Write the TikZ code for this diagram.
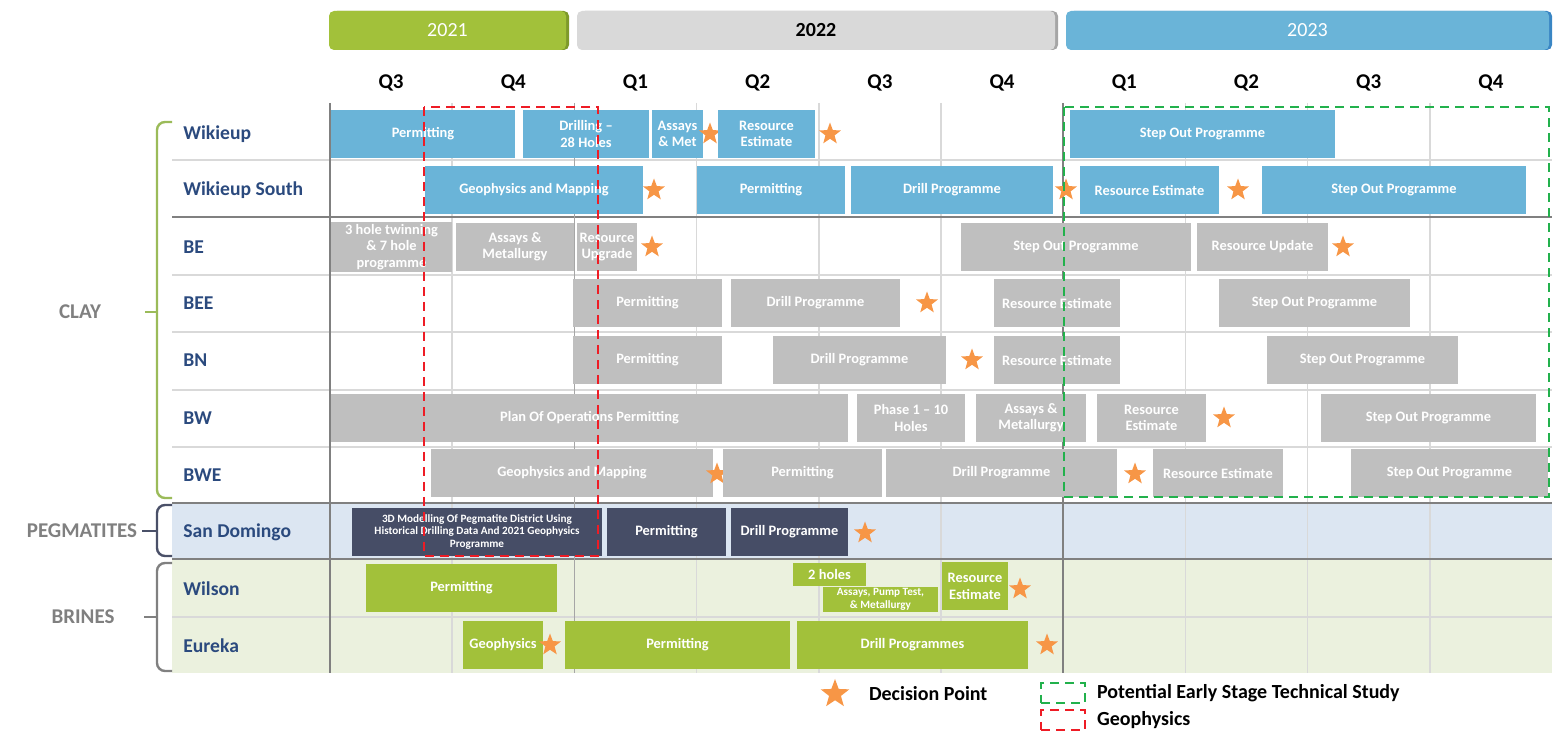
\documentclass[tikz,border=0pt]{standalone}
\usepackage{fontspec}
\setmainfont{Carlito}
\usetikzlibrary{positioning, shapes.geometric, shadows}
\definecolor{blu}{HTML}{6AB4D8}
\definecolor{bludk}{HTML}{3A86C4}
\definecolor{gry}{HTML}{BFBFBF}
\definecolor{grylt}{HTML}{D9D9D9}
\definecolor{grydk}{HTML}{A6A6A6}
\definecolor{nvy}{HTML}{464D66}
\definecolor{grn}{HTML}{A2C13A}
\definecolor{grndk}{HTML}{7E9A2A}
\definecolor{orng}{HTML}{F79646}
\definecolor{rowc}{HTML}{2B4A7E}
\definecolor{catc}{HTML}{808080}
\definecolor{pegbg}{HTML}{DCE6F2}
\definecolor{brnbg}{HTML}{EBF1DE}
\definecolor{clayc}{HTML}{9BBB59}
\definecolor{pegc}{HTML}{4A5068}
\definecolor{reddash}{HTML}{EE1C25}
\definecolor{grndash}{HTML}{22B14C}

\begin{document}
\begin{tikzpicture}[x=0.5pt, y=-0.5pt,
  task/.style={rectangle, inner sep=1pt, minimum height=24pt, text=white, align=center,
    font=\bfseries\fontsize{7.2}{8.2}\selectfont},
  bblu/.style={task, fill=blu},
  bgry/.style={task, fill=gry},
  bnvy/.style={task, fill=nvy},
  bgrn/.style={task, fill=grn},
  tiny/.style={font=\bfseries\fontsize{5.6}{6.2}\selectfont},
  bspan/.style n args={3}{at={({(#1+#2)/2},#3)}, minimum width={(#2-#1)*0.5pt}},
  dpt/.style={star, star points=5, star point ratio=2.4, fill=orng, inner sep=0pt, minimum size=11.5pt},
  yr/.style={rectangle, rounded corners=2.5pt, minimum height=19.5pt, font=\fontsize{10}{12}\selectfont,
    general shadow={shadow xshift=1.5pt, shadow yshift=0pt, fill=#1}},
  qlab/.style={font=\bfseries\fontsize{10.5}{12}\selectfont},
  rowlab/.style={anchor=west, inner sep=0pt, text=rowc, font=\bfseries\fontsize{9.8}{12}\selectfont},
  catlab/.style={text=catc, font=\bfseries\fontsize{10.5}{12}\selectfont},
  gridlt/.style={draw=grylt, line width=0.8pt},
  griddk/.style={draw=gray, line width=0.9pt},
  brace/.style={line width=1.2pt, rounded corners=4pt},
  geobox/.style={draw=reddash, line width=1.4pt, dash pattern=on 4.5pt off 3pt},
  studybox/.style={draw=grndash, line width=1.4pt, dash pattern=on 4.5pt off 3pt},
  legtxt/.style={anchor=west, font=\bfseries\fontsize{10}{12}\selectfont}
]
  \useasboundingbox (0,0) rectangle (1559,731);

  % years and quarters
  \node[yr=grndk, fill=grn, text=white, bspan={329}{566}{30.5}] (y21) {2021};
  \node[yr=grydk, fill=grylt, font=\bfseries\fontsize{10}{12}\selectfont, bspan={577}{1055}{30.5}] (y22) {2022};
  \node[yr=bludk, fill=blu, text=white, bspan={1066}{1549}{30.5}] (y23) {2023};
  \foreach \q [count=\i from 0] in {Q3,Q4,Q1,Q2,Q3,Q4,Q1,Q2,Q3,Q4}
    \node[qlab] (q\i) at ({391.1+122.2*\i},83) {\q};

  % row backgrounds
  \fill[pegbg] (172,503) rectangle (1552,559);
  \fill[brnbg] (172,559) rectangle (1552,673);

  % grid
  \foreach \k in {1,3,4,5,7,8,9}
    \draw[gridlt] ({330+122.2*\k},103) -- ({330+122.2*\k},673);
  \foreach \y in {160,275,332,390,447,617}
    \draw[gridlt] (172,\y) -- (1552,\y);
  \foreach \y in {217,503,559}
    \draw[griddk] (172,\y) -- (1552,\y);
  \draw[griddk] (330,103) -- (330,673);
  \draw[draw=gray!70, line width=0.8pt] (574.4,103) -- (574.4,673);
  \draw[griddk] (1063,103) -- (1063,673);

  % row labels
  \node[rowlab] (rwk) at (183,134) {Wikieup};
  \node[rowlab] (rws) at (183,190) {Wikieup South};
  \node[rowlab] (rbe) at (183,247) {BE};
  \node[rowlab] (rbee) at (183,303) {BEE};
  \node[rowlab] (rbn) at (183,360) {BN};
  \node[rowlab] (rbw) at (183,418) {BW};
  \node[rowlab] (rbwe) at (183,475) {BWE};
  \node[rowlab] (rsd) at (183,532) {San Domingo};
  \node[rowlab] (rwi) at (183,589) {Wilson};
  \node[rowlab] (reu) at (183,646) {Eureka};

  % groups
  \node[catlab] (clay) at (80,312) {CLAY};
  \node[catlab] (peg) at (82,531) {PEGMATITES};
  \node[catlab] (brn) at (83,617) {BRINES};
  \draw[brace, clayc] (172,122) -- (157,122) -- (157,498) -- (172,498);
  \draw[line width=1.2pt, clayc] (157,312) -- (145,312);
  \draw[brace, pegc] (172,505) -- (157,505) -- (157,556) -- (172,556);
  \draw[line width=1.2pt, pegc] (157,531) -- (142,531);
  \draw[brace, catc] (172,563) -- (157,563) -- (157,671) -- (172,671);
  \draw[line width=1.2pt, catc] (157,617) -- (144,617);

  % Wikieup
  \node[bblu, bspan={331}{515}{134}] (wk1) {Permitting};
  \node[bblu, bspan={523}{649}{134}] (wk2) {Drilling --\\28 Holes};
  \node[bblu, bspan={652}{703}{134}] (wk3) {Assays\\\& Met};
  \node[dpt] (wkd1) at (710,134) {};
  \node[bblu, bspan={718}{815}{134}] (wk4) {Resource\\Estimate};
  \node[dpt] (wkd2) at (830,134) {};
  \node[bblu, bspan={1070}{1335}{134}] (wk5) {Step Out Programme};

  % Wikieup South
  \node[bblu, bspan={425}{643}{190}] (ws1) {Geophysics and Mapping};
  \node[dpt] (wsd1) at (654,190) {};
  \node[bblu, bspan={697}{845}{190}] (ws2) {Permitting};
  \node[bblu, bspan={851}{1053}{190}] (ws3) {Drill Programme};
  \node[dpt] (wsd2) at (1066,190) {};
  \node[bblu, bspan={1080}{1219}{190}] (ws4) {Resource Estimate};
  \node[dpt] (wsd3) at (1238,190) {};
  \node[bblu, bspan={1262}{1526}{190}] (ws5) {Step Out Programme};

  % BE
  \node[bgry, bspan={331}{452}{247}] (be1) {3 hole twinning\\\& 7 hole\\programme};
  \node[bgry, bspan={456}{574}{247}] (be2) {Assays \&\\Metallurgy};
  \node[bgry, bspan={577}{637}{247}] (be3) {Resource\\Upgrade};
  \node[dpt] (bed1) at (652,247) {};
  \node[bgry, bspan={961}{1191}{247}] (be4) {Step Out Programme};
  \node[bgry, bspan={1197}{1328}{247}] (be5) {Resource Update};
  \node[dpt] (bed2) at (1343,247) {};

  % BEE
  \node[bgry, bspan={573}{722}{303}] (bee1) {Permitting};
  \node[bgry, bspan={731}{900}{303}] (bee2) {Drill Programme};
  \node[dpt] (beed1) at (927,303) {};
  \node[bgry, bspan={994}{1120}{303}] (bee3) {Resource Estimate};
  \node[bgry, bspan={1219}{1410}{303}] (bee4) {Step Out Programme};

  % BN
  \node[bgry, bspan={573}{722}{360}] (bn1) {Permitting};
  \node[bgry, bspan={773}{946}{360}] (bn2) {Drill Programme};
  \node[dpt] (bnd1) at (972,360) {};
  \node[bgry, bspan={994}{1120}{360}] (bn3) {Resource Estimate};
  \node[bgry, bspan={1267}{1458}{360}] (bn4) {Step Out Programme};

  % BW
  \node[bgry, bspan={331}{848}{418}] (bw1) {Plan Of Operations Permitting};
  \node[bgry, bspan={857}{965}{418}] (bw2) {Phase 1 -- 10\\Holes};
  \node[bgry, bspan={976}{1086}{418}] (bw3) {Assays \&\\Metallurgy};
  \node[bgry, bspan={1097}{1206}{418}] (bw4) {Resource\\Estimate};
  \node[dpt] (bwd1) at (1224,418) {};
  \node[bgry, bspan={1321}{1536}{418}] (bw5) {Step Out Programme};

  % BWE
  \node[bgry, bspan={431}{713}{473}] (bwe1) {Geophysics and Mapping};
  \node[dpt] (bwed1) at (717,474) {};
  \node[bgry, bspan={723}{882}{473}] (bwe2) {Permitting};
  \node[bgry, bspan={886}{1117}{473}] (bwe3) {Drill Programme};
  \node[dpt] (bwed2) at (1135,474) {};
  \node[bgry, bspan={1153}{1283}{473}] (bwe4) {Resource Estimate};
  \node[bgry, bspan={1351}{1548}{473}] (bwe5) {Step Out Programme};

  % San Domingo
  \node[bnvy, tiny, bspan={352}{602}{532}] (sd1) {3D Modelling Of Pegmatite District Using\\Historical Drilling Data And 2021 Geophysics\\Programme};
  \node[bnvy, bspan={607}{726}{532}] (sd2) {Permitting};
  \node[bnvy, bspan={731}{848}{532}] (sd3) {Drill Programme};
  \node[dpt] (sdd1) at (865,533) {};

  % Wilson
  \node[bgrn, bspan={366}{557}{588}] (wi1) {Permitting};
  \node[bgrn, minimum height=11.5pt, bspan={793}{866}{574.5}] (wi2) {2 holes};
  \node[bgrn, tiny, minimum height=12.5pt, inner sep=0pt, bspan={823}{938}{599.5}] (wi3) {Assays, Pump Test,\\\& Metallurgy};
  \node[bgrn, bspan={942}{1008}{586.5}] (wi4) {Resource\\Estimate};
  \node[dpt] (wid1) at (1020,589) {};

  % Eureka
  \node[bgrn, bspan={463}{543}{645}] (eu1) {Geophysics};
  \node[dpt] (eud1) at (550,645) {};
  \node[bgrn, bspan={565}{790}{645}] (eu2) {Permitting};
  \node[bgrn, bspan={797}{1028}{645}] (eu3) {Drill Programmes};
  \node[dpt] (eud2) at (1047,645) {};

  % highlight boxes
  \draw[geobox] (424,107) rectangle (598,556);
  \draw[studybox] (1064,107) rectangle (1549,497);

  % legend
  \node[dpt, minimum size=15pt] (lgd) at (835,694) {};
  \node[legtxt] (lgdt) at (862,694) {Decision Point};
  \node[studybox, minimum width=22pt, minimum height=10pt, inner sep=0pt] (lgs) at (1063,693) {};
  \node[legtxt] (lgst) at (1090,693) {Potential Early Stage Technical Study};
  \node[geobox, minimum width=22pt, minimum height=10pt, inner sep=0pt] (lgg) at (1063,720) {};
  \node[legtxt] (lggt) at (1090,720) {Geophysics};
\end{tikzpicture}
\end{document}
